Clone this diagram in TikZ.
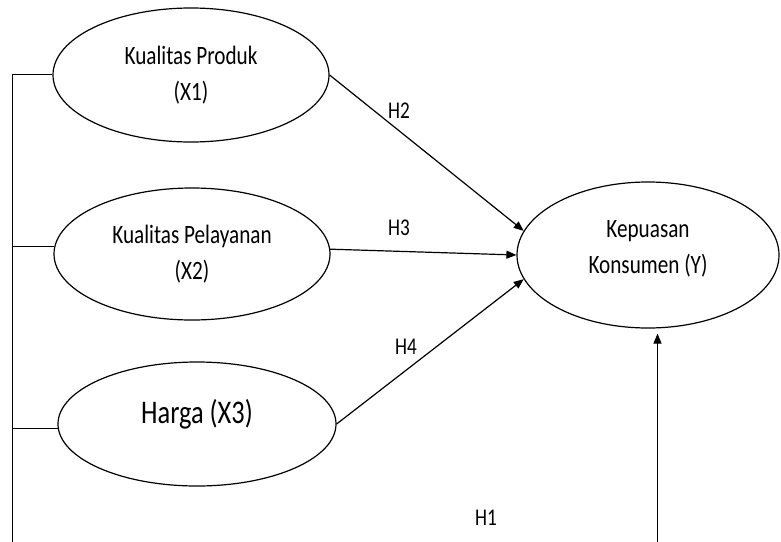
\documentclass[tikz,border=0pt]{standalone}
\usepackage{fontspec}
\setmainfont{Carlito}[FakeStretch=0.8]
\usetikzlibrary{shapes.geometric,arrows.meta}
\begin{document}
\begin{tikzpicture}[x=1pt,y=-1pt,
  var/.style={draw,ellipse,line width=1.2pt,inner sep=0pt,align=center,
    font=\fontsize{26.5}{36}\selectfont},
  hlab/.style={inner sep=0pt,font=\fontsize{24}{28}\selectfont},
  conn/.style={line width=1.2pt},
  arr/.style={conn,-{Triangle[length=10pt,width=8pt]}}]
\clip (0,0) rectangle (781,541);
\node[var,minimum width=276pt,minimum height=134pt] (X1) at (191,75) {Kualitas Produk\\(X1)};
\node[var,minimum width=276pt,minimum height=132pt] (X2) at (192,254) {Kualitas Pelayanan\\(X2)};
\node[var,minimum width=278pt,minimum height=124pt,font=\fontsize{33}{36}\selectfont,text depth=25pt] (X3) at (197,424) {Harga (X3)};
\node[var,minimum width=262pt,minimum height=146pt,text depth=17pt] (Y) at (648,255) {Kepuasan\\Konsumen (Y)};
\coordinate (busT) at (12.5,74.5);
\coordinate (busB) at (12.5,560);
\coordinate (h1b) at (657.5,560);
\draw[arr,shorten >=5pt] (X1.west |- busT) -- (busT) -- (busB) -- (h1b) -- (h1b |- Y.south);
\draw[conn] (X2.177.5) -- (X2.177.5 -| busT);
\draw[conn] (X3.182.5) -- (X3.182.5 -| busT);
\draw[arr] (X1.east) -- (Y.169);
\draw[arr] (X2.2.5) -- (Y.180);
\draw[arr] (X3.east) -- (Y.191);
\node[hlab] (H2) at (399,111) {H2};
\node[hlab] (H3) at (399,228) {H3};
\node[hlab] (H4) at (406,347) {H4};
\node[hlab] (H1) at (486,518) {H1};
\end{tikzpicture}
\end{document}
